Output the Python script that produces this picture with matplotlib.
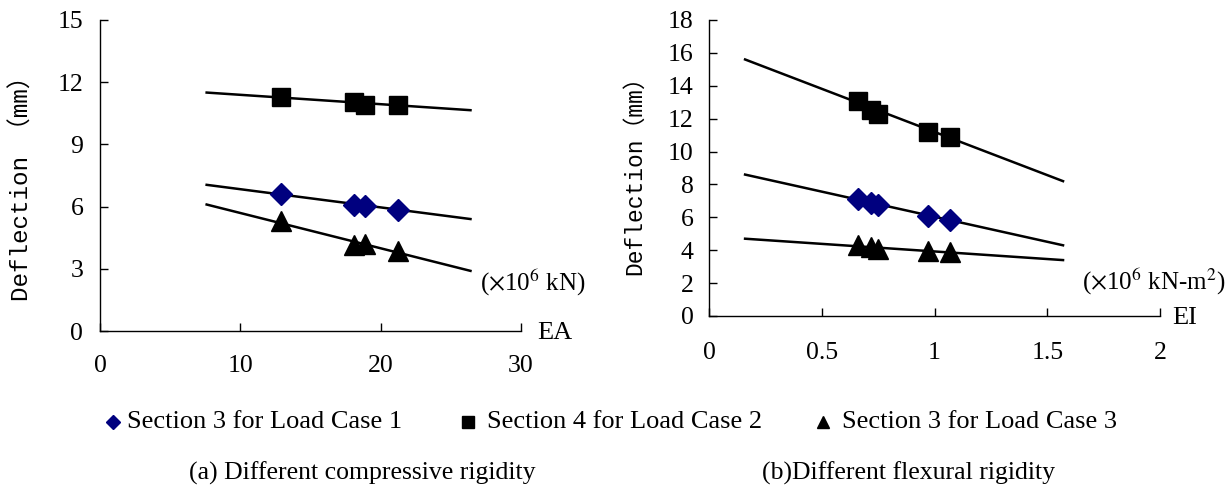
import matplotlib
matplotlib.use("Agg")
import matplotlib.pyplot as plt
from matplotlib.lines import Line2D

# ---------------- data ----------------
# (a) compressive rigidity EA (x10^6 kN)
ea = [12.9, 18.1, 18.9, 21.2]
ea_case1 = [6.6, 6.1, 6.05, 5.85]     # Section 3, Load Case 1 (diamond)
ea_case2 = [11.3, 11.05, 10.9, 10.9]  # Section 4, Load Case 2 (square)
ea_case3 = [5.3, 4.15, 4.2, 3.85]     # Section 3, Load Case 3 (triangle)
ea_fit_x = [7.6, 26.4]
ea_fit1 = [7.05, 5.4]
ea_fit2 = [11.5, 10.65]
ea_fit3 = [6.1, 2.9]

# (b) flexural rigidity EI (x10^6 kN-m^2)
ei = [0.66, 0.72, 0.75, 0.97, 1.07]
ei_case1 = [7.1, 6.9, 6.75, 6.1, 5.85]
ei_case2 = [13.1, 12.5, 12.3, 11.2, 10.9]
ei_case3 = [4.3, 4.2, 4.1, 3.95, 3.9]
ei_fit_x = [0.16, 1.57]
ei_fit1 = [8.6, 4.3]
ei_fit2 = [15.6, 8.2]
ei_fit3 = [4.7, 3.4]

ea_ticks = [0, 10, 20, 30]
ea_ticklabels = ["0", "10", "20", "30"]
ea_yticks = [0, 3, 6, 9, 12, 15]
ei_ticks = [0, 0.5, 1, 1.5, 2]
ei_ticklabels = ["0", "0.5", "1", "1.5", "2"]
ei_yticks = [0, 2, 4, 6, 8, 10, 12, 14, 16, 18]

legend_labels = ["Section 3 for Load Case 1", "Section 4 for Load Case 2",
                 "Section 3 for Load Case 3"]
captions = ["(a) Different compressive rigidity", "(b)Different flexural rigidity"]

# ---------------- figure ----------------
W, H = 1231, 491
fig = plt.figure(figsize=(W / 100, H / 100), dpi=100)
fig.patch.set_facecolor("white")

serif = ["Liberation Serif", "DejaVu Serif"]
mono = ["Liberation Mono", "Noto Sans CJK JP", "DejaVu Sans"]

def px_axes(x0, x1, y0, y1):
    return fig.add_axes([x0 / W, 1 - y1 / H, (x1 - x0) / W, (y1 - y0) / H])

axA = px_axes(100, 521, 20, 331)
axB = px_axes(709, 1160, 20, 316)

navy = "#00007F"

def style(ax, xt, xtl, yt, xpad, ypad):
    for s in ["top", "right"]:
        ax.spines[s].set_visible(False)
    for s in ["left", "bottom"]:
        ax.spines[s].set_linewidth(1.0)
    ax.set_xticks(xt)
    ax.set_xticklabels(xtl)
    ax.set_yticks(yt)
    ax.tick_params(axis="both", direction="in", length=6, width=1.0)
    ax.tick_params(axis="x", pad=xpad)
    ax.tick_params(axis="y", pad=ypad)
    for lab in ax.get_xticklabels() + ax.get_yticklabels():
        lab.set_fontfamily(serif)
        lab.set_fontsize(18.5)

# ---- panel (a)
axA.plot(ea_fit_x, ea_fit2, color="black", lw=1.8)
axA.plot(ea_fit_x, ea_fit1, color="black", lw=1.8)
axA.plot(ea_fit_x, ea_fit3, color="black", lw=1.8)
axA.plot(ea, ea_case2, ls="none", marker="s", ms=13, color="black")
axA.plot(ea, ea_case1, ls="none", marker="D", ms=11, color=navy)
axA.plot(ea, ea_case3, ls="none", marker="^", ms=14, color="black")
axA.set_xlim(0, 30)
axA.set_ylim(0, 15)
style(axA, ea_ticks, ea_ticklabels, ea_yticks, 17, 12)
axA.text(-0.185, 0.479, "Deflection （mm）", transform=axA.transAxes, rotation=90,
         ha="center", va="center", fontsize=17.5, family=mono)
fig.text(480 / W, 1 - 283 / H, r"($\times$10$^{6}$ kN)", ha="left", va="center",
         fontsize=18, family=serif, math_fontfamily="stix")
fig.text(537 / W, 1 - 333 / H, "EA", ha="left", va="center", fontsize=19, family=serif)

# ---- panel (b)
axB.plot(ei_fit_x, ei_fit2, color="black", lw=1.8)
axB.plot(ei_fit_x, ei_fit1, color="black", lw=1.8)
axB.plot(ei_fit_x, ei_fit3, color="black", lw=1.8)
axB.plot(ei, ei_case2, ls="none", marker="s", ms=13, color="black")
axB.plot(ei, ei_case1, ls="none", marker="D", ms=11, color=navy)
axB.plot(ei, ei_case3, ls="none", marker="^", ms=14, color="black")
axB.set_xlim(0, 2)
axB.set_ylim(0, 18)
style(axB, ei_ticks, ei_ticklabels, ei_yticks, 19, 11)
axB.text(-0.165, 0.495, "Deflection（mm）", transform=axB.transAxes, rotation=90,
         ha="center", va="center", fontsize=16.5, family=mono)
fig.text(1082 / W, 1 - 282 / H, r"($\times$10$^{6}$ kN-m$^{2}$)", ha="left", va="center",
         fontsize=18, family=serif, math_fontfamily="stix")
fig.text(1172 / W, 1 - 318 / H, "EI", ha="left", va="center", fontsize=19, family=serif)

# ---- legend (manual entries)
handles = [
    Line2D([], [], ls="none", marker="D", ms=7, color=navy),
    Line2D([], [], ls="none", marker="s", ms=8, color="black"),
    Line2D([], [], ls="none", marker="^", ms=9, color="black"),
]
marker_x = [113, 468, 823]
text_x = [127, 487, 842]
leg_y = 1 - 422 / H
for h, mx, tx, lab in zip(handles, marker_x, text_x, legend_labels):
    fig.add_artist(Line2D([mx / W], [leg_y], ls="none", marker=h.get_marker(),
                          ms=h.get_markersize(), color=h.get_color(),
                          transform=fig.transFigure))
    fig.text(tx / W, leg_y, lab, ha="left", va="center", fontsize=19, family=serif)

# ---- captions
fig.text(362 / W, 1 - 473 / H, captions[0], ha="center", va="center", fontsize=18.5, family=serif)
fig.text(908 / W, 1 - 473 / H, captions[1], ha="center", va="center", fontsize=18.5, family=serif)

fig.savefig("out.png", dpi=100, facecolor="white")
